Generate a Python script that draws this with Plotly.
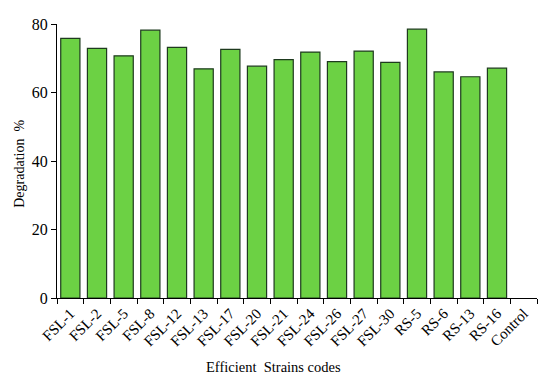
import plotly.graph_objects as go

categories = ["FSL-1", "FSL-2", "FSL-5", "FSL-8", "FSL-12", "FSL-13", "FSL-17", "FSL-20",
              "FSL-21", "FSL-24", "FSL-26", "FSL-27", "FSL-30", "RS-5", "RS-6", "RS-13",
              "RS-16", "Control"]
degradation = [75.8, 72.9, 70.7, 78.2, 73.2, 66.9, 72.6, 67.7,
               69.6, 71.8, 69.0, 72.1, 68.8, 78.5, 66.0, 64.6,
               67.1, 0]
y_ticks = [0, 20, 40, 60, 80]

outline_widths = [1.2 if v > 0 else 0 for v in degradation]

fig = go.Figure(go.Bar(
    x=categories, y=degradation,
    marker=dict(color="#6CD144", line=dict(color="#1E3A1E", width=outline_widths)),
    width=0.72,
))

font = "Liberation Serif, Times New Roman, serif"
# page body has an 8px margin; margins below compensate so the plot lands where the reference has it
fig.update_layout(
    width=550, height=382,
    margin=dict(l=49, r=21, t=16, b=92),
    plot_bgcolor="white", paper_bgcolor="white",
    showlegend=False,
    font=dict(family=font, size=15, color="black"),
    annotations=[
        dict(text="Efficient  Strains codes", xref="paper", yref="paper",
             x=0.45, y=-0.253, xanchor="center", yanchor="middle",
             showarrow=False, font=dict(family=font, size=14.5)),
        dict(text="Degradation  %", xref="paper", yref="paper",
             x=-0.077, y=0.49, xanchor="center", yanchor="middle", textangle=-90,
             showarrow=False, font=dict(family=font, size=14)),
    ],
)
fig.update_xaxes(
    range=[-0.5, 17.5], automargin=False,
    showline=True, linecolor="black", linewidth=1,
    ticks="outside", tickson="boundaries", ticklen=5, tickcolor="black",
    tickangle=-45, tickfont=dict(family=font, size=15),
    showgrid=False,
)
fig.update_yaxes(
    range=[0, 80], tickvals=y_ticks, automargin=False,
    showline=True, linecolor="black", linewidth=1,
    ticks="outside", ticklen=5, tickcolor="black",
    tickfont=dict(family=font, size=16),
    showgrid=False, zeroline=False,
)
fig.write_html("out.html")
